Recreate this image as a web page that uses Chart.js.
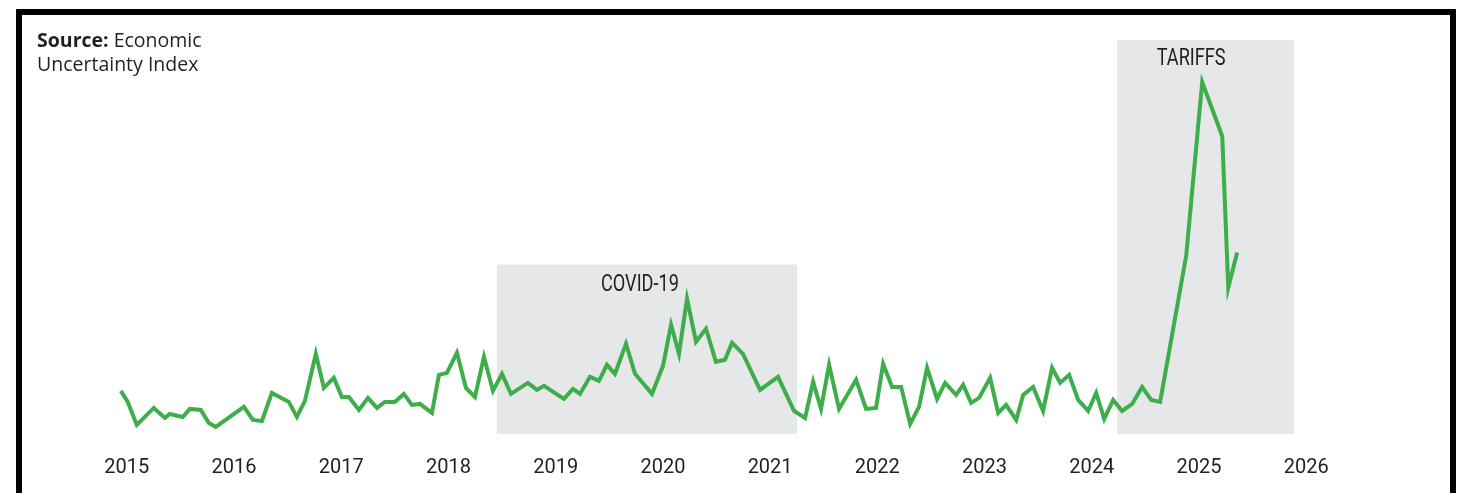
<!DOCTYPE html>
<html lang="en">

<head>
    <meta charset="UTF-8">
    <title>Economic Uncertainty Index</title>
    <script src="https://cdn.jsdelivr.net/npm/chart.js"></script>
    <style>
        body {
            margin: 0;
            width: 1471px;
            height: 493px;
            overflow: hidden;
            background: #fff;
            position: relative;
        }

        .frame {
            position: absolute;
            left: 16px;
            top: 9px;
            width: 1428px;
            height: 600px;
            border: 6px solid #000;
            border-bottom: none;
        }

        .source {
            position: absolute;
            left: 37px;
            top: 28px;
            font-family: "Open Sans", sans-serif;
            font-size: 19.5px;
            line-height: 24px;
            color: #231f20;
        }

        #epu-chart {
            position: absolute;
            left: 0;
            top: 0;
        }
    </style>
</head>

<body>

    <div class="frame"></div>
    <canvas id="epu-chart" width="1471" height="493"></canvas>
    <div class="source"><b>Source:</b> Economic<br>Uncertainty Index</div>

    <script>
        // dates as decimal years
        const dates = [
            2014.944, 2015.009, 2015.093, 2015.252, 2015.355, 2015.401, 2015.522, 2015.588, 2015.690, 2015.765,
            2015.830, 2016.092, 2016.176, 2016.260, 2016.353, 2016.511, 2016.586, 2016.661, 2016.763, 2016.838,
            2016.931, 2017.006, 2017.071, 2017.165, 2017.249, 2017.333, 2017.407, 2017.500, 2017.584, 2017.659,
            2017.734, 2017.846, 2017.911, 2017.986, 2018.079, 2018.163, 2018.247, 2018.331, 2018.415, 2018.499,
            2018.583, 2018.741, 2018.825, 2018.891, 2019.077, 2019.161, 2019.227, 2019.320, 2019.404, 2019.478,
            2019.553, 2019.656, 2019.740, 2019.898, 2020.001, 2020.076, 2020.150, 2020.225, 2020.309, 2020.402,
            2020.495, 2020.579, 2020.645, 2020.747, 2020.906, 2021.074, 2021.223, 2021.326, 2021.401, 2021.475,
            2021.550, 2021.643, 2021.802, 2021.895, 2021.988, 2022.054, 2022.138, 2022.222, 2022.306, 2022.389,
            2022.464, 2022.557, 2022.632, 2022.735, 2022.800, 2022.875, 2022.949, 2023.052, 2023.127, 2023.201,
            2023.295, 2023.360, 2023.453, 2023.546, 2023.630, 2023.705, 2023.789, 2023.873, 2023.966, 2024.041,
            2024.116, 2024.200, 2024.283, 2024.377, 2024.470, 2024.554, 2024.638, 2024.881, 2025.030, 2025.217,
            2025.273, 2025.356
        ];

        const uncertainty = [
            43, 32, 9, 26, 16, 20, 17, 25, 24, 11,
            7, 27, 14, 13, 41, 32, 17, 33, 80, 46,
            56, 37, 37, 24, 36, 26, 32, 32, 40, 29,
            30, 21, 59, 61, 81, 46, 37, 77, 43, 60,
            40, 51, 44, 48, 35, 45, 40, 57, 53, 69,
            60, 90, 60, 40, 68, 109, 80, 135, 92, 105,
            72, 74, 91, 80, 44, 57, 23, 16, 52, 25,
            69, 25, 54, 25, 26, 70, 47, 47, 10, 27,
            66, 35, 51, 39, 49, 31, 36, 56, 21, 29,
            14, 39, 47, 23, 66, 51, 59, 34, 23, 41,
            15, 34, 23, 30, 47, 34, 32, 178, 351, 297,
            146, 181
        ];

        const years = [2015, 2016, 2017, 2018, 2019, 2020, 2021, 2022, 2023, 2024, 2025, 2026];

        // shaded periods: [start, end, top value, label, label x, label y]
        const covidBox = [2018.452, 2021.251, 169, 'COVID-19', 2019.786, 148];
        const tariffBox = [2024.237, 2025.888, 393, 'TARIFFS', 2024.927, 374];

        const shadePlugin = {
            id: 'shade',
            beforeDatasetsDraw(chart) {
                const { ctx, scales: { x, y } } = chart;
                [covidBox, tariffBox].forEach(b => {
                    const left = x.getPixelForValue(b[0]);
                    const right = x.getPixelForValue(b[1]);
                    const top = y.getPixelForValue(b[2]);
                    const bottom = y.getPixelForValue(0);
                    ctx.save();
                    ctx.fillStyle = '#e6e7e8';
                    ctx.fillRect(left, top, right - left, bottom - top);
                    // narrow caption, squeezed sideways
                    ctx.translate(x.getPixelForValue(b[4]), y.getPixelForValue(b[5]));
                    ctx.scale(0.79, 1);
                    ctx.fillStyle = '#231f20';
                    ctx.font = '23px Roboto, sans-serif';
                    ctx.textAlign = 'center';
                    ctx.textBaseline = 'middle';
                    ctx.fillText(b[3], 0, 0);
                    ctx.restore();
                });
            }
        };

        const ctx = document.getElementById('epu-chart').getContext('2d');
        new Chart(ctx, {
            type: 'line',
            data: {
                datasets: [{
                    data: dates.map((d, i) => ({ x: d, y: uncertainty[i] })),
                    borderColor: '#3dae49',
                    borderWidth: 4,
                    pointRadius: 0,
                    tension: 0,
                    fill: false
                }]
            },
            options: {
                responsive: false,
                animation: false,
                maintainAspectRatio: false,
                layout: {
                    padding: { left: 100, right: 138, top: 40, bottom: -9 }
                },
                plugins: {
                    legend: { display: false },
                    tooltip: { enabled: false }
                },
                scales: {
                    x: {
                        type: 'linear',
                        min: 2014.75,
                        max: 2026.25,
                        grid: { display: false, drawTicks: false },
                        border: { display: false },
                        afterBuildTicks: scale => {
                            scale.ticks = years.map(v => ({ value: v }));
                        },
                        ticks: {
                            padding: 22,
                            maxRotation: 0,
                            autoSkip: false,
                            color: '#231f20',
                            font: { family: 'Roboto, sans-serif', size: 20 },
                            callback: v => String(v)
                        }
                    },
                    y: {
                        display: false,
                        min: 0,
                        max: 393
                    }
                }
            },
            plugins: [shadePlugin]
        });
    </script>

</body>

</html>
